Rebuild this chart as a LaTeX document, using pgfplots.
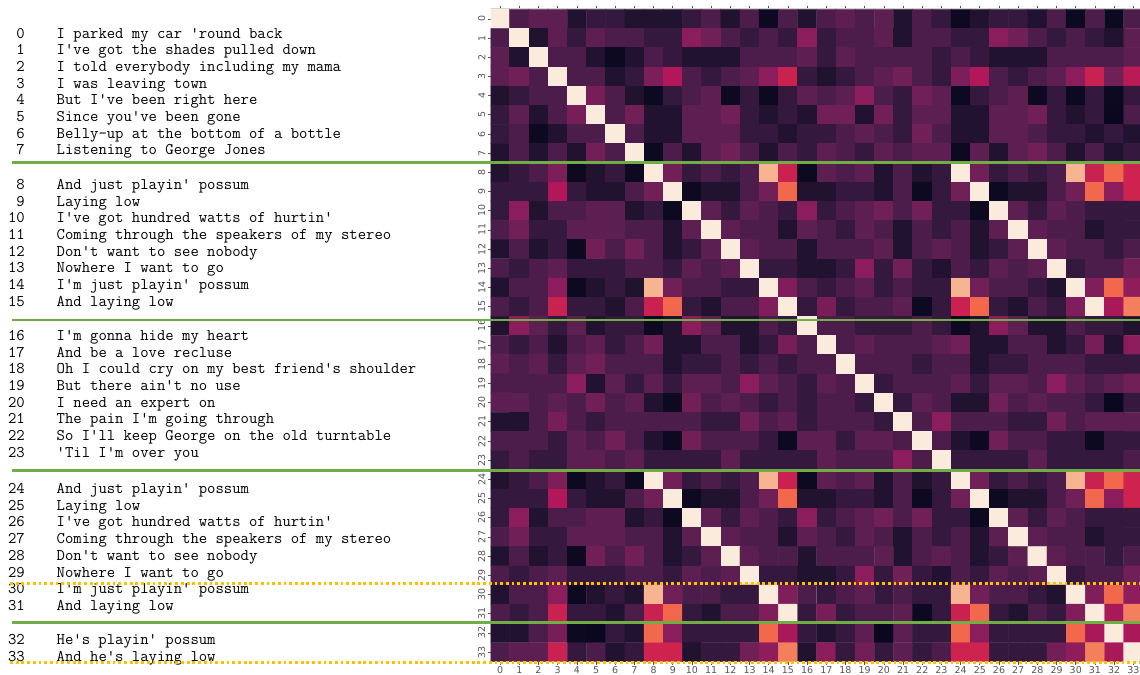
\documentclass[border=0pt]{standalone}
\usepackage{fontspec}
\usepackage{pgfplots}
\pgfplotsset{compat=1.18}
\newfontfamily\lyricfont{Latin Modern Mono}[Ligatures=TeXOff]
\newfontfamily\tickfont{DejaVu Sans}
\definecolor{tickgray}{HTML}{555555}
\definecolor{sepgreen}{HTML}{70AD47}
\definecolor{sepgold}{HTML}{FFC000}
\pgfplotsset{colormap={rocket}{rgb255=(3,5,26) rgb255=(33,18,48) rgb255=(62,27,68) rgb255=(96,31,83) rgb255=(135,30,92) rgb255=(178,24,89) rgb255=(218,40,74) rgb255=(240,85,64) rgb255=(244,132,96) rgb255=(246,180,146) rgb255=(250,235,221)}}
\newcommand\lyric[3]{%
  \node[anchor=base east,inner sep=0pt,font=\lyricfont\fontsize{16.3}{18}\selectfont] at (25,675-#2) {#1};
  \node[anchor=base west,inner sep=0pt,font=\lyricfont\fontsize{16.3}{18}\selectfont] at (56.5,675-#2) {#3};}
\begin{document}
\begin{tikzpicture}[x=1bp,y=1bp]
\begin{axis}[
  at={(490.5bp,13.3bp)}, anchor=south west,
  scale only axis, width=652.4bp, height=652.4bp,
  xmin=-0.5, xmax=33.5, ymin=-0.5, ymax=33.5, y dir=reverse,
  axis line style={draw=none},
  xtick={0,...,33}, ytick={0,...,33},
  tick align=outside, major tick length=3bp,
  tick style={draw=tickgray, line width=0.7bp},
  /pgf/number format/assume math mode=true,
  ticklabel style={font=\tickfont\fontsize{9.5}{11}\selectfont, text=tickgray},
  xticklabel style={inner sep=2pt},
  yticklabel style={rotate=90, anchor=south, inner sep=2pt},
  colormap name=rocket, point meta min=0, point meta max=1,
]
\addplot[matrix plot*, mesh/cols=34, point meta=explicit] table[header=false, row sep=\\, meta index=0, x expr={mod(\coordindex,34)}, y expr={floor(\coordindex/34+0.001)}] {
1\\0.24\\0.29\\0.29\\0.10\\0.17\\0.17\\0.10\\0.10\\0.10\\0.17\\0.24\\0.10\\0.24\\0.03\\0.24\\0.10\\0.24\\0.29\\0.24\\0.29\\0.10\\0.24\\0.17\\0.03\\0.10\\0.17\\0.17\\0.10\\0.24\\0.03\\0.24\\0.03\\0.24\\
0.24\\1\\0.10\\0.29\\0.17\\0.29\\0.24\\0.24\\0.17\\0.17\\0.41\\0.34\\0.24\\0.17\\0.24\\0.17\\0.41\\0.17\\0.24\\0.24\\0.29\\0.10\\0.24\\0.24\\0.17\\0.17\\0.41\\0.34\\0.24\\0.17\\0.24\\0.17\\0.10\\0.29\\
0.29\\0.10\\1\\0.24\\0.24\\0.10\\0.03\\0.10\\0.24\\0.17\\0.10\\0.10\\0.10\\0.24\\0.24\\0.24\\0.29\\0.17\\0.29\\0.24\\0.24\\0.24\\0.24\\0.17\\0.24\\0.17\\0.10\\0.10\\0.10\\0.24\\0.24\\0.24\\0.24\\0.29\\
0.29\\0.34\\0.24\\1\\0.24\\0.24\\0.10\\0.17\\0.37\\0.50\\0.24\\0.17\\0.24\\0.29\\0.41\\0.56\\0.17\\0.10\\0.17\\0.24\\0.29\\0.34\\0.24\\0.17\\0.37\\0.50\\0.24\\0.17\\0.24\\0.29\\0.41\\0.56\\0.34\\0.52\\
0.10\\0.17\\0.24\\0.24\\1\\0.36\\0.24\\0.10\\0.03\\0.17\\0.24\\0.29\\0.03\\0.17\\0.03\\0.17\\0.29\\0.24\\0.29\\0.41\\0.24\\0.17\\0.34\\0.29\\0.03\\0.17\\0.24\\0.29\\0.03\\0.17\\0.03\\0.17\\0.03\\0.17\\
0.17\\0.29\\0.10\\0.24\\0.36\\1\\0.24\\0.34\\0.10\\0.10\\0.29\\0.29\\0.34\\0.17\\0.10\\0.17\\0.10\\0.34\\0.34\\0.10\\0.34\\0.17\\0.29\\0.29\\0.10\\0.10\\0.29\\0.29\\0.34\\0.17\\0.10\\0.17\\0.02\\0.24\\
0.17\\0.24\\0.03\\0.10\\0.24\\0.24\\1\\0.24\\0.10\\0.10\\0.29\\0.29\\0.29\\0.17\\0.17\\0.10\\0.17\\0.17\\0.24\\0.29\\0.24\\0.17\\0.34\\0.24\\0.10\\0.10\\0.29\\0.29\\0.24\\0.17\\0.17\\0.10\\0.17\\0.10\\
0.10\\0.24\\0.10\\0.24\\0.10\\0.34\\0.24\\1\\0.03\\0.24\\0.10\\0.29\\0.34\\0.24\\0.10\\0.24\\0.17\\0.29\\0.24\\0.17\\0.29\\0.24\\0.29\\0.29\\0.03\\0.29\\0.10\\0.29\\0.34\\0.24\\0.10\\0.24\\0.10\\0.17\\
0.10\\0.17\\0.24\\0.37\\0.03\\0.10\\0.17\\0.03\\1\\0.34\\0.17\\0.24\\0.17\\0.24\\0.90\\0.56\\0.03\\0.29\\0.24\\0.29\\0.10\\0.24\\0.10\\0.17\\1\\0.34\\0.17\\0.24\\0.17\\0.24\\0.90\\0.56\\0.74\\0.57\\
0.17\\0.17\\0.17\\0.50\\0.17\\0.10\\0.10\\0.24\\0.34\\1\\0.03\\0.10\\0.10\\0.24\\0.34\\0.74\\0.10\\0.10\\0.17\\0.17\\0.10\\0.24\\0.03\\0.17\\0.34\\1\\0.03\\0.10\\0.10\\0.24\\0.34\\0.74\\0.41\\0.57\\
0.17\\0.41\\0.10\\0.24\\0.24\\0.29\\0.29\\0.10\\0.17\\0.03\\1\\0.29\\0.17\\0.29\\0.24\\0.17\\0.41\\0.17\\0.24\\0.29\\0.34\\0.24\\0.34\\0.17\\0.17\\0.03\\1\\0.29\\0.17\\0.29\\0.24\\0.17\\0.17\\0.17\\
0.24\\0.34\\0.17\\0.17\\0.29\\0.29\\0.29\\0.24\\0.24\\0.10\\0.29\\1\\0.29\\0.24\\0.24\\0.10\\0.29\\0.24\\0.17\\0.29\\0.24\\0.10\\0.24\\0.17\\0.24\\0.10\\0.29\\1\\0.29\\0.24\\0.24\\0.10\\0.17\\0.17\\
0.10\\0.24\\0.10\\0.17\\0.03\\0.34\\0.24\\0.34\\0.24\\0.10\\0.17\\0.29\\1\\0.29\\0.24\\0.24\\0.10\\0.24\\0.24\\0.24\\0.29\\0.10\\0.24\\0.29\\0.24\\0.10\\0.17\\0.29\\1\\0.29\\0.24\\0.24\\0.17\\0.24\\
0.24\\0.17\\0.24\\0.29\\0.17\\0.17\\0.17\\0.24\\0.24\\0.17\\0.29\\0.24\\0.29\\1\\0.17\\0.17\\0.10\\0.10\\0.17\\0.41\\0.17\\0.34\\0.17\\0.10\\0.24\\0.17\\0.29\\0.24\\0.29\\1\\0.17\\0.24\\0.24\\0.34\\
0.10\\0.24\\0.24\\0.41\\0.03\\0.10\\0.17\\0.10\\0.90\\0.34\\0.24\\0.24\\0.17\\0.17\\1\\0.38\\0.24\\0.17\\0.24\\0.29\\0.17\\0.24\\0.17\\0.17\\0.90\\0.34\\0.24\\0.24\\0.17\\0.10\\1\\0.38\\0.74\\0.42\\
0.24\\0.17\\0.24\\0.56\\0.17\\0.17\\0.10\\0.24\\0.56\\0.74\\0.17\\0.10\\0.24\\0.24\\0.38\\1\\0.17\\0.36\\0.17\\0.24\\0.24\\0.29\\0.03\\0.17\\0.56\\0.74\\0.17\\0.10\\0.24\\0.17\\0.38\\1\\0.48\\0.79\\
0.10\\0.41\\0.29\\0.17\\0.29\\0.10\\0.17\\0.17\\0.03\\0.10\\0.41\\0.29\\0.10\\0.10\\0.24\\0.17\\1\\0.24\\0.24\\0.17\\0.17\\0.17\\0.24\\0.17\\0.03\\0.10\\0.41\\0.29\\0.10\\0.10\\0.24\\0.17\\0.17\\0.10\\
0.24\\0.17\\0.24\\0.10\\0.24\\0.29\\0.17\\0.24\\0.34\\0.10\\0.10\\0.24\\0.24\\0.10\\0.17\\0.36\\0.24\\1\\0.24\\0.29\\0.24\\0.24\\0.24\\0.29\\0.34\\0.10\\0.10\\0.24\\0.24\\0.10\\0.17\\0.36\\0.10\\0.41\\
0.29\\0.24\\0.29\\0.17\\0.29\\0.34\\0.24\\0.24\\0.24\\0.10\\0.17\\0.17\\0.24\\0.17\\0.24\\0.17\\0.24\\0.24\\1\\0.24\\0.24\\0.24\\0.17\\0.24\\0.24\\0.10\\0.17\\0.17\\0.24\\0.24\\0.24\\0.17\\0.17\\0.17\\
0.24\\0.24\\0.24\\0.24\\0.41\\0.10\\0.29\\0.17\\0.29\\0.17\\0.29\\0.29\\0.24\\0.41\\0.29\\0.24\\0.17\\0.29\\0.24\\1\\0.17\\0.24\\0.24\\0.24\\0.29\\0.17\\0.29\\0.29\\0.24\\0.41\\0.29\\0.24\\0.29\\0.34\\
0.29\\0.29\\0.24\\0.29\\0.24\\0.34\\0.24\\0.29\\0.10\\0.03\\0.34\\0.24\\0.29\\0.24\\0.17\\0.24\\0.17\\0.24\\0.24\\0.17\\1\\0.17\\0.29\\0.24\\0.10\\0.10\\0.34\\0.24\\0.29\\0.24\\0.24\\0.17\\0.02\\0.17\\
0.10\\0.10\\0.24\\0.36\\0.24\\0.17\\0.24\\0.24\\0.24\\0.24\\0.24\\0.17\\0.17\\0.34\\0.24\\0.29\\0.17\\0.24\\0.24\\0.24\\0.17\\1\\0.24\\0.41\\0.24\\0.24\\0.24\\0.17\\0.17\\0.34\\0.24\\0.29\\0.29\\0.29\\
0.24\\0.24\\0.24\\0.17\\0.29\\0.24\\0.34\\0.24\\0.10\\0.03\\0.34\\0.24\\0.24\\0.24\\0.17\\0.03\\0.29\\0.29\\0.17\\0.29\\0.29\\0.24\\1\\0.24\\0.10\\0.03\\0.34\\0.24\\0.24\\0.17\\0.17\\0.03\\0.17\\0.17\\
0.17\\0.24\\0.17\\0.17\\0.29\\0.29\\0.24\\0.29\\0.17\\0.17\\0.17\\0.17\\0.29\\0.17\\0.17\\0.17\\0.17\\0.29\\0.24\\0.24\\0.24\\0.41\\0.24\\1\\0.17\\0.17\\0.17\\0.17\\0.29\\0.17\\0.17\\0.17\\0.17\\0.24\\
0.10\\0.17\\0.24\\0.37\\0.03\\0.10\\0.17\\0.03\\1\\0.34\\0.17\\0.24\\0.17\\0.24\\0.90\\0.56\\0.03\\0.29\\0.24\\0.29\\0.10\\0.24\\0.10\\0.17\\1\\0.34\\0.17\\0.24\\0.17\\0.24\\0.90\\0.56\\0.74\\0.57\\
0.17\\0.17\\0.17\\0.50\\0.17\\0.10\\0.10\\0.24\\0.34\\1\\0.03\\0.10\\0.10\\0.24\\0.34\\0.74\\0.10\\0.10\\0.17\\0.17\\0.10\\0.24\\0.03\\0.17\\0.34\\1\\0.03\\0.10\\0.10\\0.24\\0.34\\0.74\\0.41\\0.57\\
0.17\\0.41\\0.10\\0.24\\0.24\\0.29\\0.29\\0.10\\0.17\\0.03\\1\\0.29\\0.17\\0.29\\0.24\\0.17\\0.41\\0.17\\0.24\\0.29\\0.34\\0.24\\0.34\\0.17\\0.17\\0.03\\1\\0.29\\0.17\\0.29\\0.24\\0.17\\0.17\\0.17\\
0.24\\0.34\\0.17\\0.17\\0.29\\0.29\\0.29\\0.24\\0.24\\0.10\\0.29\\1\\0.29\\0.24\\0.24\\0.10\\0.29\\0.24\\0.17\\0.29\\0.24\\0.10\\0.24\\0.17\\0.24\\0.10\\0.29\\1\\0.29\\0.24\\0.24\\0.10\\0.17\\0.17\\
0.10\\0.24\\0.10\\0.17\\0.03\\0.34\\0.24\\0.34\\0.24\\0.10\\0.17\\0.29\\1\\0.29\\0.24\\0.24\\0.10\\0.24\\0.24\\0.24\\0.29\\0.10\\0.24\\0.29\\0.24\\0.10\\0.17\\0.29\\1\\0.29\\0.24\\0.24\\0.17\\0.24\\
0.24\\0.17\\0.24\\0.29\\0.17\\0.17\\0.17\\0.24\\0.24\\0.17\\0.29\\0.24\\0.29\\1\\0.17\\0.17\\0.10\\0.10\\0.17\\0.41\\0.17\\0.34\\0.17\\0.10\\0.24\\0.17\\0.29\\0.24\\0.29\\1\\0.17\\0.24\\0.24\\0.34\\
0.10\\0.24\\0.24\\0.41\\0.03\\0.10\\0.17\\0.10\\0.90\\0.34\\0.24\\0.24\\0.17\\0.17\\1\\0.38\\0.24\\0.17\\0.24\\0.29\\0.17\\0.24\\0.17\\0.17\\0.90\\0.34\\0.24\\0.24\\0.17\\0.10\\1\\0.38\\0.74\\0.42\\
0.24\\0.17\\0.24\\0.56\\0.17\\0.17\\0.10\\0.24\\0.56\\0.74\\0.17\\0.10\\0.24\\0.24\\0.38\\1\\0.17\\0.36\\0.17\\0.24\\0.24\\0.29\\0.03\\0.17\\0.56\\0.74\\0.17\\0.10\\0.24\\0.17\\0.38\\1\\0.48\\0.79\\
0.10\\0.10\\0.24\\0.36\\0.03\\0.02\\0.17\\0.10\\0.74\\0.41\\0.17\\0.17\\0.17\\0.17\\0.74\\0.48\\0.17\\0.10\\0.17\\0.29\\0.02\\0.29\\0.17\\0.17\\0.74\\0.41\\0.17\\0.17\\0.17\\0.17\\0.74\\0.48\\1\\0.48\\
0.24\\0.29\\0.29\\0.56\\0.17\\0.24\\0.10\\0.17\\0.57\\0.57\\0.10\\0.17\\0.17\\0.34\\0.42\\0.79\\0.10\\0.41\\0.17\\0.34\\0.17\\0.29\\0.17\\0.24\\0.57\\0.57\\0.17\\0.17\\0.17\\0.34\\0.42\\0.79\\0.48\\1\\
};
\end{axis}
\draw[gray!35, line width=0.8bp] (490.5,666.2) -- (1140,666.2);
% lyrics, baselines in image pixels from the top
\lyric{0}{38.3}{I parked my car 'round back}
\lyric{1}{55.0}{I've got the shades pulled down}
\lyric{2}{71.6}{I told everybody including my mama}
\lyric{3}{88.3}{I was leaving town}
\lyric{4}{105.0}{But I've been right here}
\lyric{5}{121.7}{Since you've been gone}
\lyric{6}{138.3}{Belly-up at the bottom of a bottle}
\lyric{7}{155.0}{Listening to George Jones}
\lyric{8}{189.5}{And just playin' possum}
\lyric{9}{206.2}{Laying low}
\lyric{10}{222.8}{I've got hundred watts of hurtin'}
\lyric{11}{239.5}{Coming through the speakers of my stereo}
\lyric{12}{256.2}{Don't want to see nobody}
\lyric{13}{272.9}{Nowhere I want to go}
\lyric{14}{289.5}{I'm just playin' possum}
\lyric{15}{306.2}{And laying low}
\lyric{16}{340.5}{I'm gonna hide my heart}
\lyric{17}{357.2}{And be a love recluse}
\lyric{18}{373.8}{Oh I could cry on my best friend's shoulder}
\lyric{19}{390.5}{But there ain't no use}
\lyric{20}{407.2}{I need an expert on}
\lyric{21}{423.9}{The pain I'm going through}
\lyric{22}{440.5}{So I'll keep George on the old turntable}
\lyric{23}{457.2}{'Til I'm over you}
\lyric{24}{493.7}{And just playin' possum}
\lyric{25}{510.4}{Laying low}
\lyric{26}{527.0}{I've got hundred watts of hurtin'}
\lyric{27}{543.7}{Coming through the speakers of my stereo}
\lyric{28}{560.4}{Don't want to see nobody}
\lyric{29}{577.1}{Nowhere I want to go}
\lyric{30}{593.7}{I'm just playin' possum}
\lyric{31}{610.4}{And laying low}
\lyric{32}{645.0}{He's playin' possum}
\lyric{33}{661.7}{And he's laying low}
% section separators
\foreach \yy in {512.3,355,204.3,52.3}
  \draw[sepgreen, line width=2.7bp] (12,\yy) -- (1140,\yy);
\foreach \yy in {91.7,12.3}
  \draw[sepgold, line width=2.5bp, dash pattern=on 2.8bp off 2.9bp] (10,\yy) -- (1140,\yy);
\pgfresetboundingbox
\useasboundingbox (0,0) rectangle (1140,675);
\end{tikzpicture}
\end{document}
